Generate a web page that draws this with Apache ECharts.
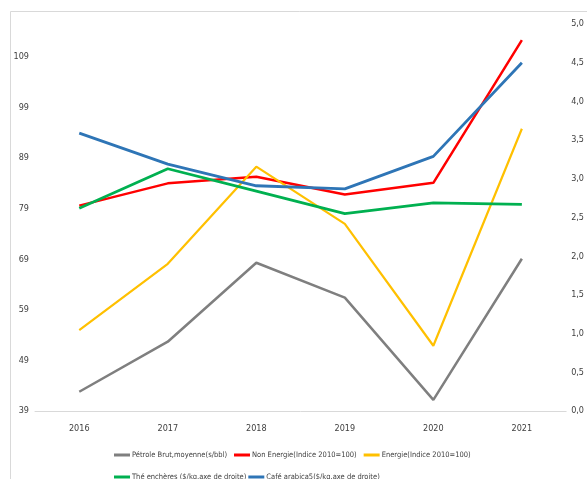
<!DOCTYPE html>
<html>
<head>
<meta charset="utf-8">
<script src="https://cdn.jsdelivr.net/npm/echarts@6/dist/echarts.min.js"></script>
<style>
  html, body { margin: 0; padding: 0; background: #fff; }
  #chart { width: 587px; height: 479px; }
</style>
</head>
<body>
<div id="chart"></div>
<script>
// Years on the category axis
const years = ['2016', '2017', '2018', '2019', '2020', '2021'];

// Left axis series (index / $ per barrel)
const petrole = [42.8, 52.7, 68.3, 61.4, 41.2, 69.1];
const nonEnergie = [79.6, 84.0, 85.3, 81.8, 84.1, 112.3];
const energie = [55.0, 68.1, 87.3, 76.0, 51.9, 94.8];

// Right axis series ($/kg)
const the = [2.62, 3.13, 2.84, 2.55, 2.69, 2.67];
const cafe = [3.59, 3.19, 2.91, 2.87, 3.29, 4.50];

// Series names as shown in the legend
const names = {
  petrole: 'Pétrole Brut,moyenne(s/bbl)',
  nonEnergie: 'Non Energie(Indice 2010=100)',
  energie: 'Energie(Indice 2010=100)',
  the: 'Thé enchères ($/kg,axe de droite)',
  cafe: 'Café arabica5($/kg,axe de droite)'
};

const FONT = '"Liberation Sans Narrow", "DejaVu Sans Condensed", sans-serif';
const TXT = '#404040';

const chart = echarts.init(document.getElementById('chart'), null, { renderer: 'canvas' });

function line(name, data, color, width, axis) {
  return {
    name: name,
    type: 'line',
    data: data,
    yAxisIndex: axis,
    symbol: 'none',
    lineStyle: { color: color, width: width },
    itemStyle: { color: color },
    z: 2
  };
}

const legendText = { fontFamily: FONT, fontSize: 7.5, color: TXT, padding: [0, 0, 0, -3] };

chart.setOption({
  animation: false,
  backgroundColor: '#fff',
  graphic: [
    {
      type: 'rect',
      shape: { x: 10.5, y: 11.5, width: 620, height: 520 },
      style: { fill: 'none', stroke: '#d9d9d9', lineWidth: 1 },
      silent: true
    }
  ],
  grid: { left: 35, right: 18.5, top: 24, bottom: 68, containLabel: false },
  legend: [
    {
      left: 109, top: 446,
      data: [names.petrole, names.nonEnergie, names.energie],
      icon: 'rect', itemWidth: 16, itemHeight: 3, itemGap: 7,
      textStyle: legendText
    },
    {
      left: 109, top: 468,
      data: [names.the, names.cafe],
      icon: 'rect', itemWidth: 16, itemHeight: 3, itemGap: 2,
      textStyle: legendText
    }
  ],
  xAxis: {
    type: 'category',
    data: years,
    boundaryGap: true,
    axisLine: { lineStyle: { color: '#d9d9d9', width: 1 } },
    axisTick: { show: false },
    axisLabel: { fontFamily: FONT, fontSize: 9, color: TXT, margin: 13 }
  },
  yAxis: [
    {
      type: 'value',
      min: 39, max: 115.5, interval: 10,
      splitLine: { show: false },
      axisLine: { show: false },
      axisTick: { show: false },
      axisLabel: {
        fontFamily: FONT, fontSize: 9, color: TXT, margin: 6,
        formatter: v => (Number.isInteger(v) ? String(v) : '')
      }
    },
    {
      type: 'value',
      min: 0, max: 5, interval: 0.5,
      splitLine: { show: false },
      axisLine: { show: false },
      axisTick: { show: false },
      axisLabel: {
        fontFamily: FONT, fontSize: 9, color: TXT, margin: 5,
        formatter: v => v.toFixed(1).replace('.', ',')
      }
    }
  ],
  series: [
    line(names.petrole, petrole, '#7f7f7f', 2.5, 0),
    line(names.nonEnergie, nonEnergie, '#ff0000', 2.5, 0),
    line(names.energie, energie, '#ffc000', 2.2, 0),
    line(names.the, the, '#00b050', 2.8, 1),
    line(names.cafe, cafe, '#2e75b6', 2.8, 1)
  ]
});
</script>
</body>
</html>
